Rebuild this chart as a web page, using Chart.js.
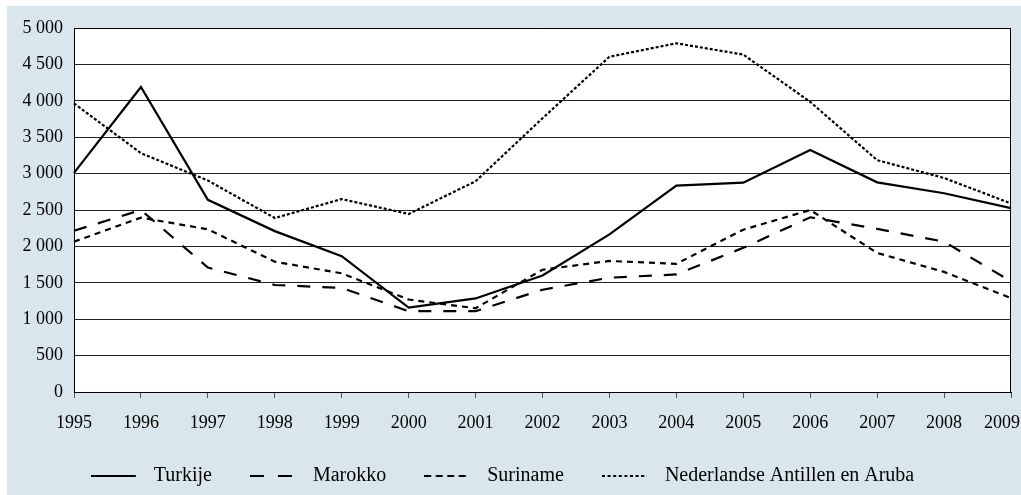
<!DOCTYPE html>
<html>
<head>
<meta charset="utf-8">
<script src="https://cdn.jsdelivr.net/npm/chart.js@4.4.1/dist/chart.umd.min.js"></script>
<style>
  html, body { margin: 0; padding: 0; width: 1021px; height: 495px; overflow: hidden; background: #ffffff; }
  #panel { position: absolute; left: 7px; top: 6px; width: 1014px; height: 489px; background: #d9e6ee; }
  #wrap { position: absolute; left: -6px; top: 0px; width: 1027px; height: 495px; }
</style>
</head>
<body>
<div id="panel"></div>
<div id="wrap"><canvas id="c" width="1027" height="495"></canvas></div>
<script>
const years = ['1995','1996','1997','1998','1999','2000','2001','2002','2003','2004','2005','2006','2007','2008','2009'];
const turkije  = [3010, 4190, 2640, 2210, 1865, 1160, 1285, 1600, 2165, 2835, 2875, 3325, 2880, 2730, 2525];
const marokko  = [2215, 2500, 1710, 1470, 1430, 1110, 1110, 1405, 1570, 1615, 1980, 2400, 2240, 2065, 1520];
const suriname = [2065, 2395, 2235, 1790, 1630, 1270, 1150, 1680, 1800, 1760, 2230, 2500, 1910, 1650, 1290];
const antillen = [3965, 3280, 2905, 2390, 2650, 2445, 2895, 3760, 4605, 4790, 4635, 3985, 3185, 2940, 2590];
const seriesNames = ['Turkije', 'Marokko', 'Suriname', 'Nederlandse Antillen en Aruba'];
const yMin = 0, yMax = 5000, yStep = 500;

const FONT = "'Liberation Serif', 'Times New Roman', serif";

function legendImage(dash) {
  const cv = document.createElement('canvas');
  cv.width = 53; cv.height = 6;
  const g = cv.getContext('2d');
  g.strokeStyle = '#000';
  g.lineWidth = 2;
  g.setLineDash(dash);
  g.beginPath();
  g.moveTo(0, 3); g.lineTo(45, 3);
  g.stroke();
  return cv;
}
const legendDashes = [[], [14, 14], [7, 4.5], [3, 2.6]];
const lineDashes = [[], [13, 12], [6, 5], [3, 2]];
const seriesData = [turkije, marokko, suriname, antillen];

const datasets = seriesNames.map((name, i) => ({
  label: name,
  data: seriesData[i],
  borderColor: '#000',
  backgroundColor: '#000',
  borderWidth: 2.2,
  borderDash: lineDashes[i],
  borderJoinStyle: 'miter',
  borderCapStyle: 'butt',
  pointRadius: 0,
  tension: 0,
  fill: false
}));

const chartAreaPlugin = {
  id: 'areaBg',
  beforeDraw(chart) {
    const {ctx, chartArea: a} = chart;
    ctx.save();
    ctx.fillStyle = '#ffffff';
    ctx.fillRect(a.left, a.top, a.right - a.left, a.bottom - a.top);
    ctx.restore();
    // keep the last year label inside the panel (right-aligned at the edge)
    const xs = chart.scales.x;
    const items = xs.getLabelItems(a);
    if (items.length) {
      const last = items[items.length - 1];
      last.options.textAlign = 'right';
      last.options.translation[0] = a.right + 9;
    }
  },
  beforeDatasetsDraw(chart) {
    const {ctx, chartArea: a} = chart;
    ctx.save();
    ctx.strokeStyle = '#000';
    ctx.lineWidth = 1;
    ctx.beginPath();
    ctx.moveTo(Math.round(a.left) + 0.5, Math.round(a.top) + 0.5);
    ctx.lineTo(Math.round(a.right) - 0.5, Math.round(a.top) + 0.5);
    ctx.lineTo(Math.round(a.right) - 0.5, Math.round(a.bottom));
    ctx.stroke();
    ctx.restore();
  }
};

new Chart(document.getElementById('c'), {
  type: 'line',
  data: { labels: years, datasets },
  plugins: [chartAreaPlugin],
  options: {
    responsive: false,
    animation: false,
    events: [],
    layout: { padding: { left: 0, right: 10, top: 28, bottom: -1 } },
    scales: {
      x: {
        offset: false,
        grid: { drawOnChartArea: false, drawTicks: true, tickLength: 6, color: '#555', lineWidth: 1 },
        border: { display: true, color: '#000', width: 1 },
        ticks: { color: '#000', font: { family: FONT, size: 18 }, padding: 14, maxRotation: 0, autoSkip: false },
        afterFit(scale) {
          scale.height = 36; scale.paddingLeft = 0; scale.paddingRight = 0;
          scale._computeLabelArea = function () { return undefined; };
        }
      },
      y: {
        min: yMin, max: yMax,
        grid: { drawTicks: false, color: '#222', lineWidth: 1 },
        border: { display: true, color: '#000', width: 1 },
        ticks: {
          stepSize: yStep, padding: 11, color: '#000',
          font: { family: FONT, size: 18 },
          callback(v) {
            if (v >= 1000) { const t = Math.floor(v / 1000); const r = String(v % 1000).padStart(3, '0'); return t + ' ' + r; }
            return String(v);
          }
        },
        afterFit(scale) { scale.width = 80; scale.paddingTop = 0; scale.paddingBottom = 0; }
      }
    },
    plugins: {
      tooltip: { enabled: false },
      legend: {
        position: 'bottom',
        align: 'center',
        labels: {
          usePointStyle: true,
          pointStyleWidth: 53,
          padding: 38,
          color: '#000',
          font: { family: FONT, size: 20 },
          generateLabels(chart) {
            return chart.data.datasets.map((ds, i) => ({
              text: ds.label,
              pointStyle: legendImage(legendDashes[i]),
              fillStyle: '#000',
              strokeStyle: '#000',
              lineWidth: 0,
              hidden: false,
              datasetIndex: i,
              fontColor: '#000'
            }));
          }
        }
      }
    }
  }
});
</script>
</body>
</html>
